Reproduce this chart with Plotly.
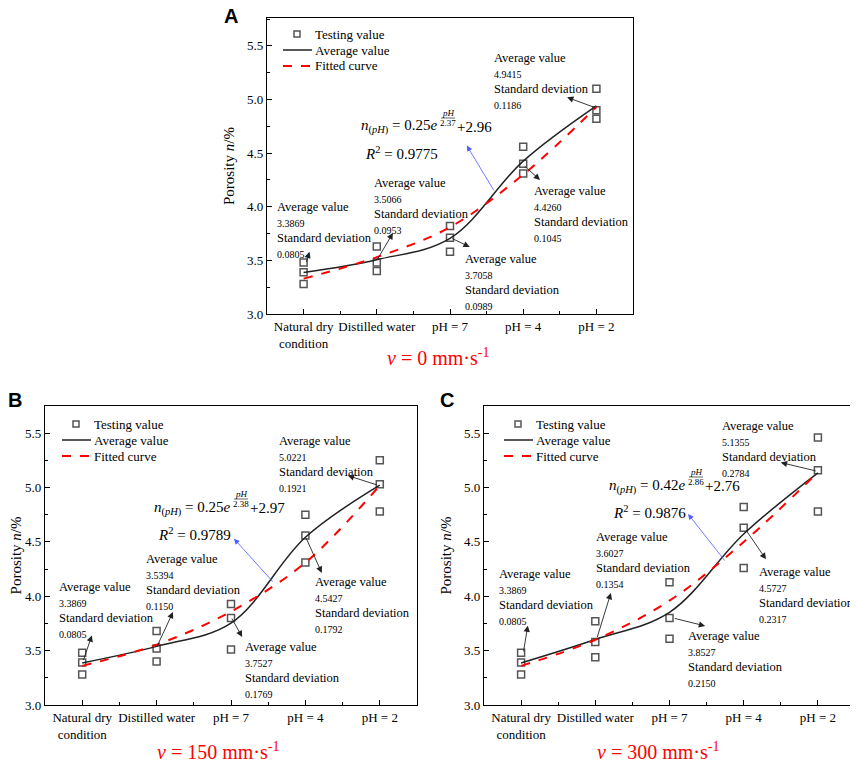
"""Porosity of specimens under different solution conditions (three flow rates)."""

import plotly.graph_objects as go

# the page body keeps its default 8 px margin, so the figure is drawn 8 px in
# from the window corner; all placements below are given in window pixels
PAGE_W, PAGE_H = 858, 763
OFF = 8
W, H = PAGE_W - OFF, PAGE_H - OFF
SERIF = "'Liberation Serif', 'Times New Roman', serif"

# =============================================================================
# Data
# =============================================================================

categories = ["Natural dry<br>condition", "Distilled water", "pH = 7", "pH = 4", "pH = 2"]
x_pos = [0, 1, 2, 3, 4]

# v = 0 mm/s
test_a = [[3.48, 3.39, 3.28], [3.63, 3.48, 3.40], [3.82, 3.71, 3.58],
          [4.56, 4.40, 4.31], [5.10, 4.90, 4.82]]
avg_a = [3.3869, 3.5066, 3.7058, 4.4260, 4.9415]
sd_a = [0.0805, 0.0953, 0.0989, 0.1045, 0.1186]
fit_a = [3.33, 3.53, 3.81, 4.30, 4.93]

# v = 150 mm/s
test_b = [[3.48, 3.39, 3.28], [3.68, 3.52, 3.40], [3.93, 3.80, 3.51],
          [4.75, 4.56, 4.31], [5.25, 5.03, 4.78]]
avg_b = [3.3869, 3.5394, 3.7527, 4.5427, 5.0221]
sd_b = [0.0805, 0.1150, 0.1769, 0.1792, 0.1921]
fit_b = [3.36, 3.555, 3.86, 4.31, 5.02]

# v = 300 mm/s
test_c = [[3.48, 3.39, 3.28], [3.77, 3.58, 3.44], [4.13, 3.80, 3.61],
          [4.82, 4.63, 4.26], [5.46, 5.16, 4.78]]
avg_c = [3.3869, 3.6027, 3.8527, 4.5727, 5.1355]
sd_c = [0.0805, 0.1354, 0.2150, 0.2317, 0.2784]
fit_c = [3.36, 3.60, 3.96, 4.50, 5.14]

# fitted equation n = a * exp(pH / b) + c, with R^2
fit_params = {
    "a": ("0.25", "2.37", "2.96", "0.9775"),
    "b": ("0.25", "2.38", "2.97", "0.9789"),
    "c": ("0.42", "2.86", "2.76", "0.9876"),
}
speeds = {"a": "0", "b": "150", "c": "300"}
legend_labels = ["Testing value", "Average value", "Fitted curve"]


# =============================================================================
# Panel geometry (pixels) and annotation placement
# =============================================================================

panels = [
    {
        "key": "a", "sfx": "",
        "test": test_a, "avg": avg_a, "sd": sd_a, "fit": fit_a,
        "px_x": (267, 633), "px_y": (18, 314), "yrange": (3.0, 5.76),
        "legend_px": (283, 34), "letter": ("A", 231, 16), "title_px": (438, 357),
        "formula_px": (365, 127, 153),
        # text block top-left (data coords)
        "blocks": [(-0.39, 4.08), (0.93, 4.31), (2.18, 3.60), (3.12, 4.23), (2.57, 5.47)],
        # arrow tail -> head (data coords)
        "arrows": [(0.03, 3.47, 0.08, 3.58), (1.0, 3.50, 1.22, 3.755),
                   (2.01, 3.71, 2.27, 3.625), (3.0, 4.39, 3.23, 4.25),
                   (4.0, 4.92, 3.6, 5.02)],
        "blue": (2.61, 4.14, 2.23, 4.57),
    },
    {
        "key": "b", "sfx": "2",
        "test": test_b, "avg": avg_b, "sd": sd_b, "fit": fit_b,
        "px_x": (45, 417), "px_y": (406, 705), "yrange": (3.0, 5.75),
        "legend_px": (62, 424), "letter": ("B", 15, 400), "title_px": (218, 751),
        "formula_px": (158, 508, 534),
        "blocks": [(-0.34, 4.17), (0.83, 4.43), (2.16, 3.62), (3.10, 4.21), (2.62, 5.51)],
        "arrows": [(0.01, 3.40, 0.13, 3.64), (1.0, 3.53, 1.22, 3.855),
                   (2.0, 3.81, 2.15, 3.625), (3.0, 4.55, 3.22, 4.215),
                   (3.98, 5.02, 3.57, 5.11)],
        "blue": (2.58, 4.12, 2.04, 4.53),
    },
    {
        "key": "c", "sfx": "3",
        "test": test_c, "avg": avg_c, "sd": sd_c, "fit": fit_c,
        "px_x": (484, 855), "px_y": (406, 705), "yrange": (3.0, 5.75),
        "legend_px": (504, 424), "letter": ("C", 447, 400), "title_px": (658, 751),
        "formula_px": (613, 486, 512),
        "blocks": [(-0.325, 4.29), (0.98, 4.63), (2.22, 3.72), (3.18, 4.31), (2.68, 5.65)],
        "arrows": [(0.03, 3.48, 0.09, 3.73), (1.02, 3.61, 1.21, 4.03),
                   (2.05, 3.80, 2.48, 3.727), (3.02, 4.62, 3.30, 4.34),
                   (3.99, 5.15, 3.5, 5.23)],
        "blue": (2.76, 4.315, 2.25, 4.757),
    },
]


def px(x):
    return (x - OFF) / W


def py(y):
    return 1 - (y - OFF) / H


def block_text(avg, sd):
    return (
        "<span style='font-size:12.5px'>Average value</span><br>"
        f"<span style='font-size:10px'>{avg:.4f}</span><br>"
        "<span style='font-size:12.5px'>Standard deviation</span><br>"
        f"<span style='font-size:10px'>{sd:.4f}</span>"
    )


def paper_text(x, y, text, font, xanchor="left", yanchor="middle"):
    return {
        "x": px(x), "y": py(y), "xref": "paper", "yref": "paper",
        "xanchor": xanchor, "yanchor": yanchor, "showarrow": False,
        "text": text, "font": font,
    }


fig = go.Figure()
annotations = []
shapes = []
layout_axes = {}

axis_common = {
    "showline": True,
    "linecolor": "black",
    "linewidth": 1.2,
    "mirror": True,
    "ticks": "inside",
    "ticklen": 5,
    "tickwidth": 1,
    "tickcolor": "black",
    "showgrid": False,
    "zeroline": False,
    "automargin": False,
    "tickfont": {"family": SERIF, "size": 13, "color": "black"},
}

for p in panels:
    sfx = p["sfx"]
    xref, yref = f"x{sfx}", f"y{sfx}"

    # testing values
    tx, ty = [], []
    for i, vals in enumerate(p["test"]):
        tx += [x_pos[i]] * len(vals)
        ty += vals
    fig.add_trace(go.Scatter(
        x=tx, y=ty, mode="markers", name="Testing value", showlegend=False,
        marker={"symbol": "square-open", "size": 7, "color": "#555555",
                "line": {"width": 1.5, "color": "#555555"}},
        xaxis=xref, yaxis=yref,
    ))
    fig.add_trace(go.Scatter(
        x=x_pos, y=p["avg"], mode="lines", name="Average value", showlegend=False,
        line={"color": "#222222", "width": 1.5, "shape": "spline"},
        xaxis=xref, yaxis=yref,
    ))
    fig.add_trace(go.Scatter(
        x=x_pos, y=p["fit"], mode="lines", name="Fitted curve", showlegend=False,
        line={"color": "#ff0000", "width": 2, "dash": "dash", "shape": "spline"},
        xaxis=xref, yaxis=yref,
    ))

    # axes
    x0, x1 = p["px_x"]
    y0, y1 = p["px_y"]
    layout_axes[f"xaxis{sfx}"] = {
        **axis_common,
        "domain": [px(x0), min(px(x1), 1.0)],
        "anchor": yref,
        "range": [-0.5, 4.5],
        "tickmode": "array",
        "tickvals": x_pos,
        "ticktext": categories,
        "minor": {"tickvals": [0.5, 1.5, 2.5, 3.5], "ticks": "inside",
                  "ticklen": 3, "tickcolor": "black"},
    }
    layout_axes[f"yaxis{sfx}"] = {
        **axis_common,
        "domain": [py(y1), py(y0)],
        "anchor": xref,
        "range": list(p["yrange"]),
        "tick0": 3.0,
        "dtick": 0.5,
        "tickformat": ".1f",
        "minor": {"dtick": 0.25, "ticks": "inside", "ticklen": 3, "tickcolor": "black"},
        "title": {"text": "Porosity <i>n</i>/%", "standoff": 8,
                  "font": {"family": SERIF, "size": 15, "color": "black"}},
    }

    # legend drawn by hand so its rows keep the tight spacing of the original
    lx, ly = p["legend_px"]
    leg_font = {"family": SERIF, "size": 13, "color": "black"}
    shapes.append({
        "type": "rect", "xref": "paper", "yref": "paper",
        "x0": px(lx + 11), "x1": px(lx + 17), "y0": py(ly - 3), "y1": py(ly + 3),
        "line": {"color": "#555555", "width": 1.5},
    })
    shapes.append({
        "type": "line", "xref": "paper", "yref": "paper",
        "x0": px(lx), "x1": px(lx + 29), "y0": py(ly + 16), "y1": py(ly + 16),
        "line": {"color": "#222222", "width": 1.5},
    })
    shapes.append({
        "type": "line", "xref": "paper", "yref": "paper",
        "x0": px(lx), "x1": px(lx + 29), "y0": py(ly + 32), "y1": py(ly + 32),
        "line": {"color": "#ff0000", "width": 2, "dash": "dash"},
    })
    for k, label in enumerate(legend_labels):
        annotations.append(paper_text(lx + 30, ly + 16 * k, label, leg_font))

    # text blocks with arrows
    for (bx, by), avg, sd in zip(p["blocks"], p["avg"], p["sd"]):
        annotations.append({
            "x": bx, "y": by, "xref": xref, "yref": yref,
            "xanchor": "left", "yanchor": "top", "align": "left",
            "text": block_text(avg, sd), "showarrow": False,
            "font": {"family": SERIF, "size": 12, "color": "black"},
        })
    for tx0, ty0, hx, hy in p["arrows"]:
        annotations.append({
            "x": hx, "y": hy, "ax": tx0, "ay": ty0,
            "xref": xref, "yref": yref, "axref": xref, "ayref": yref,
            "text": "", "showarrow": True, "arrowhead": 2, "arrowsize": 1.4,
            "arrowwidth": 0.9, "arrowcolor": "#222222",
        })
    bx0, by0, bx1, by1 = p["blue"]
    annotations.append({
        "x": bx1, "y": by1, "ax": bx0, "ay": by0,
        "xref": xref, "yref": yref, "axref": xref, "ayref": yref,
        "text": "", "showarrow": True, "arrowhead": 2, "arrowsize": 1.4,
        "arrowwidth": 0.8, "arrowcolor": "#4f5bff",
    })

    # fitted equation
    a, b, c, r2 = fit_params[p["key"]]
    fx, fy, ry = p["formula_px"]
    eq_font = {"family": SERIF, "size": 15, "color": "black"}
    frac_font = {**eq_font, "size": 9}
    annotations += [
        paper_text(fx + 75, fy, f"<i>n</i><sub>(<i>pH</i>)</sub> = {a}<i>e</i>",
                   eq_font, xanchor="right"),
        paper_text(fx + 83, fy - 14, "<i>pH</i>", frac_font, xanchor="center"),
        paper_text(fx + 83, fy - 4, b, frac_font, xanchor="center"),
        paper_text(fx + 90, fy, f"+{c}", eq_font),
        paper_text(fx - 2, ry, f"<i>R</i><sup>2</sup> = {r2}", eq_font),
    ]
    shapes.append({
        "type": "line", "xref": "paper", "yref": "paper",
        "x0": px(fx + 76), "x1": px(fx + 90), "y0": py(fy - 9), "y1": py(fy - 9),
        "line": {"color": "black", "width": 0.6},
    })

    # panel letter and speed title
    letter, lpx, lpy = p["letter"]
    annotations.append(paper_text(
        lpx, lpy, f"<b>{letter}</b>",
        {"family": "'Liberation Sans', Arial, sans-serif", "size": 20, "color": "black"},
        xanchor="center",
    ))
    tpx, tpy = p["title_px"]
    annotations.append(paper_text(
        tpx, tpy, f"<i>v</i> = {speeds[p['key']]} mm·s<sup>-1</sup>",
        {"family": SERIF, "size": 20, "color": "#ff0000"}, xanchor="center",
    ))

fig.update_layout(
    width=W,
    height=H,
    margin={"l": 0, "r": 0, "t": 0, "b": 0, "autoexpand": False},
    paper_bgcolor="white",
    plot_bgcolor="white",
    font={"family": SERIF, "size": 13, "color": "black"},
    showlegend=False,
    annotations=annotations,
    shapes=shapes,
    **layout_axes,
)

fig.write_html("out.html")
